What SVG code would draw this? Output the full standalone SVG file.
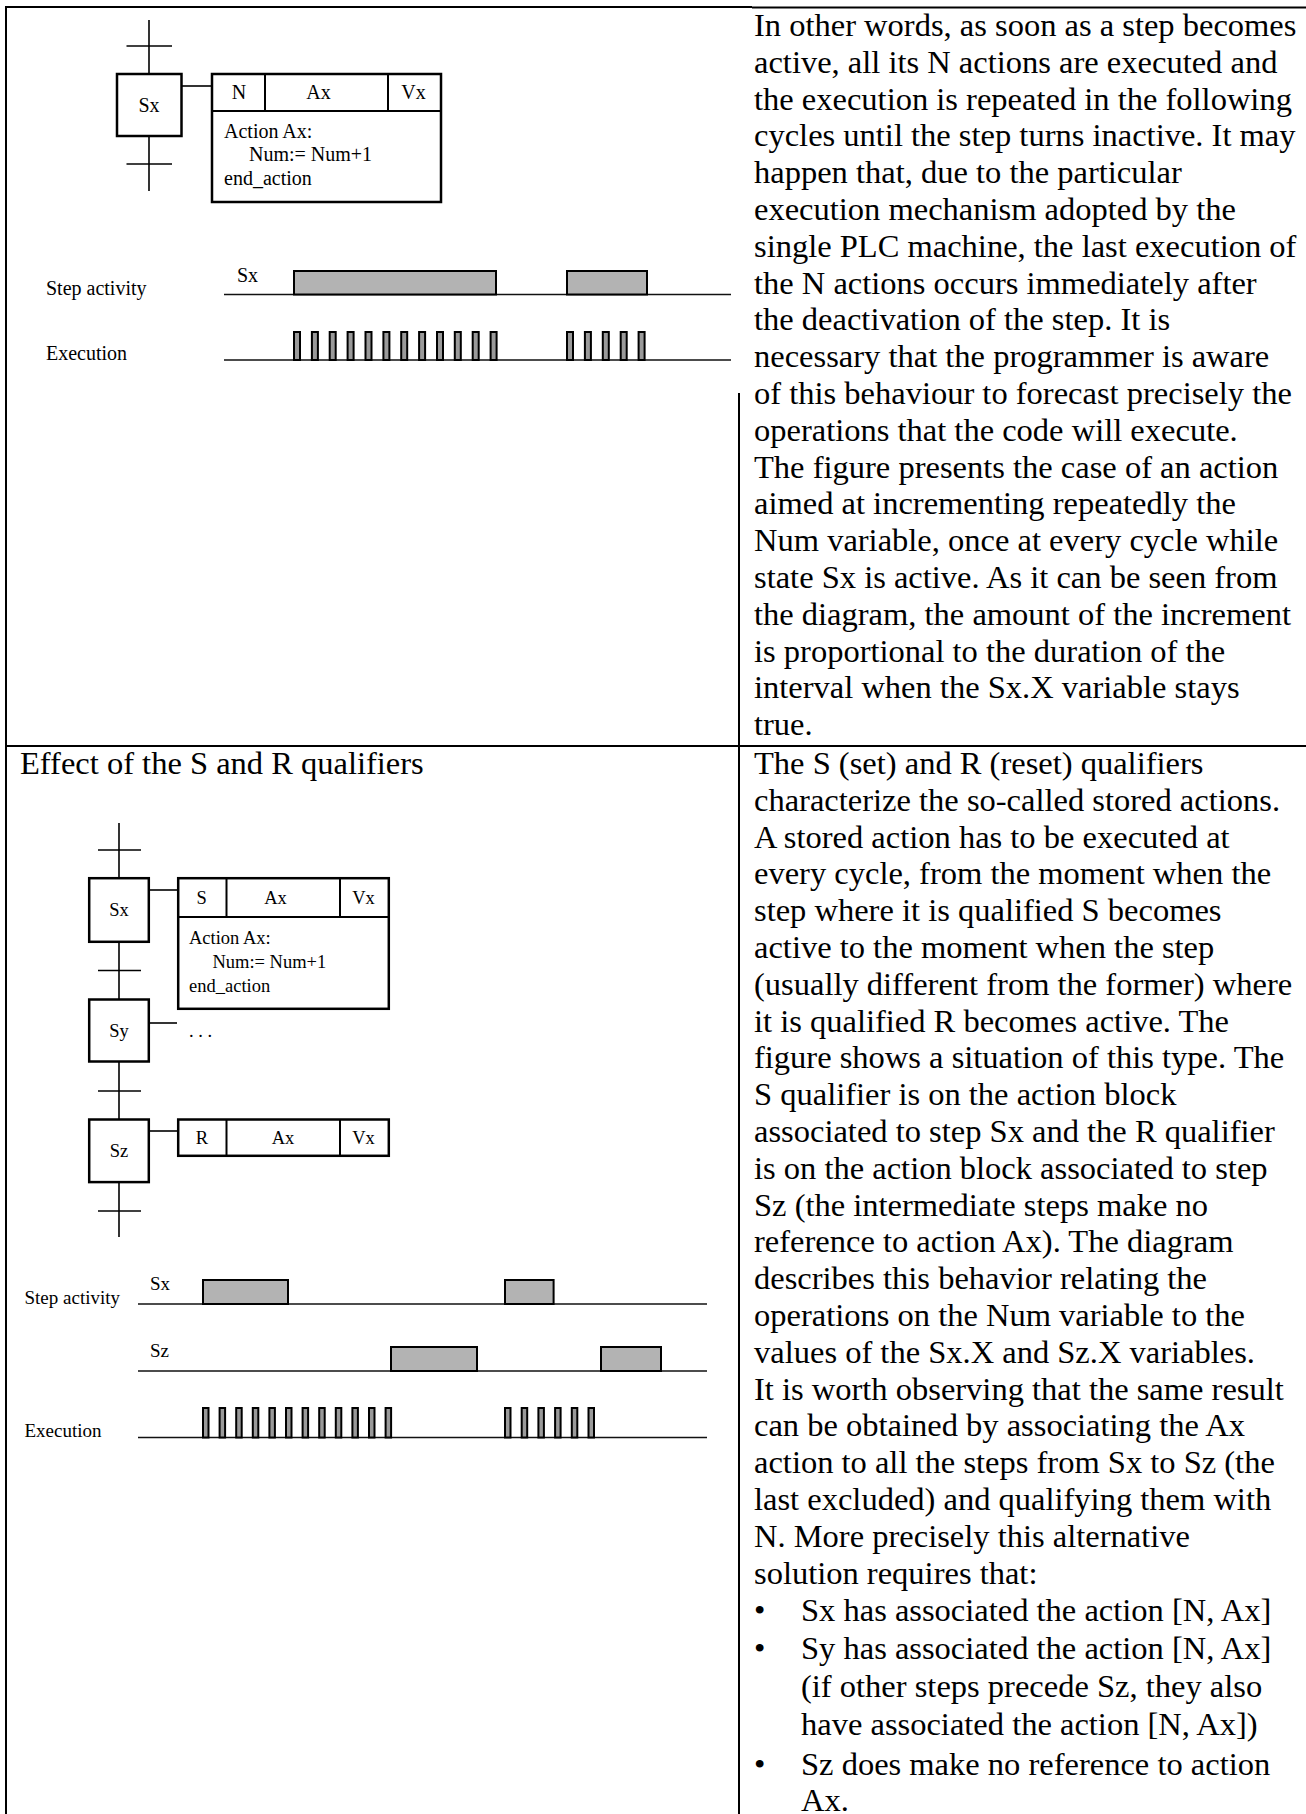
<svg xmlns="http://www.w3.org/2000/svg" width="1306" height="1814" viewBox="0 0 1306 1814">
  <style>
    text { font-family: "Liberation Serif", "Times New Roman", serif; fill: #000; }
    .body { font-size: 32.5px; }
    .f20 { font-size: 20px; }
    .f19 { font-size: 19px; }
    .f18 { font-size: 18.5px; }
    .mid { text-anchor: middle; }
    .grid { stroke: #000; stroke-width: 2; fill: none; }
    .box { fill: #fff; stroke: #000; stroke-width: 2.5; }
    .cell { stroke: #000; stroke-width: 2; fill: none; }
    .wire { stroke: #000; stroke-width: 1.6; fill: none; }
    .axis { stroke: #111; stroke-width: 1.6; fill: none; }
    .act { fill: #b3b3b3; stroke: #000; stroke-width: 2; }
    .pulse { fill: #9a9a9a; stroke: #000; stroke-width: 2; }
  </style>

  <rect x="0" y="0" width="1306" height="1814" fill="#fff"/>

  <!-- table rules -->
  <g id="table">
    <line class="grid" x1="5" y1="7" x2="752" y2="7" stroke-width="1.5"/>
    <line class="grid" x1="752" y1="7.5" x2="1306" y2="7.5"/>
    <line class="grid" x1="6" y1="6" x2="6" y2="1814"/>
    <line class="grid" x1="739" y1="393" x2="739" y2="1814"/>
    <line class="grid" x1="5" y1="746" x2="1306" y2="746"/>
  </g>

  <!-- ===== upper figure: N qualifier ===== -->
  <g id="fig1">
    <g id="fig1-connectors">
      <line class="wire" x1="149" y1="20" x2="149" y2="74"/>
      <line class="wire" x1="149" y1="136" x2="149" y2="191"/>
      <line class="wire" x1="126.5" y1="46" x2="172" y2="46"/>
      <line class="wire" x1="126.5" y1="164" x2="172" y2="164"/>
      <line class="wire" x1="182" y1="86" x2="212" y2="86"/>
    </g>
    <g id="fig1-step-sx">
      <rect class="box" x="117" y="74" width="64.5" height="62"/>
      <text class="f20 mid" x="149" y="111.5">Sx</text>
    </g>
    <g id="fig1-action-ax">
      <rect class="box" x="212" y="74" width="229" height="128"/>
      <line class="cell" x1="212" y1="111" x2="441" y2="111"/>
      <line class="cell" x1="265" y1="74" x2="265" y2="111"/>
      <line class="cell" x1="388" y1="74" x2="388" y2="111"/>
      <text class="f20 mid" x="239" y="99">N</text>
      <text class="f20 mid" x="318.5" y="99">Ax</text>
      <text class="f20 mid" x="413.5" y="99">Vx</text>
      <text class="f20" x="224" y="137.5">Action Ax:</text>
      <text class="f20" x="249" y="161">Num:= Num+1</text>
      <text class="f20" x="224" y="184.5">end_action</text>
    </g>
    <g id="fig1-timing">
      <text class="f20" x="46" y="295">Step activity</text>
      <text class="f20" x="46" y="360">Execution</text>
      <text class="f20" x="237" y="282">Sx</text>
      <line class="axis" x1="224" y1="294.5" x2="731" y2="294.5"/>
      <line class="axis" x1="224" y1="360" x2="731" y2="360"/>
      <rect class="act" x="294" y="271" width="202" height="23.5"/>
      <rect class="act" x="567" y="271" width="80" height="23.5"/>
      <g id="fig1-pulses">
        <rect class="pulse" x="294" y="332" width="6" height="28"/>
        <rect class="pulse" x="311.9" y="332" width="6" height="28"/>
        <rect class="pulse" x="329.7" y="332" width="6" height="28"/>
        <rect class="pulse" x="347.6" y="332" width="6" height="28"/>
        <rect class="pulse" x="365.5" y="332" width="6" height="28"/>
        <rect class="pulse" x="383.4" y="332" width="6" height="28"/>
        <rect class="pulse" x="401.2" y="332" width="6" height="28"/>
        <rect class="pulse" x="419.1" y="332" width="6" height="28"/>
        <rect class="pulse" x="437" y="332" width="6" height="28"/>
        <rect class="pulse" x="454.8" y="332" width="6" height="28"/>
        <rect class="pulse" x="472.7" y="332" width="6" height="28"/>
        <rect class="pulse" x="490.6" y="332" width="6" height="28"/>
        <rect class="pulse" x="567" y="332" width="6" height="28"/>
        <rect class="pulse" x="584.9" y="332" width="6" height="28"/>
        <rect class="pulse" x="602.8" y="332" width="6" height="28"/>
        <rect class="pulse" x="620.7" y="332" width="6" height="28"/>
        <rect class="pulse" x="638.6" y="332" width="6" height="28"/>
      </g>
    </g>
  </g>

  <!-- upper explanation -->
  <g id="text-n-qualifier" class="body">
    <text x="754" y="36">In other words, as soon as a step becomes</text>
    <text x="754" y="72.8">active, all its N actions are executed and</text>
    <text x="754" y="109.6">the execution is repeated in the following</text>
    <text x="754" y="146.4">cycles until the step turns inactive. It may</text>
    <text x="754" y="183.2">happen that, due to the particular</text>
    <text x="754" y="220">execution mechanism adopted by the</text>
    <text x="754" y="256.8">single PLC machine, the last execution of</text>
    <text x="754" y="293.6">the N actions occurs immediately after</text>
    <text x="754" y="330.4">the deactivation of the step. It is</text>
    <text x="754" y="367.2">necessary that the programmer is aware</text>
    <text x="754" y="404">of this behaviour to forecast precisely the</text>
    <text x="754" y="440.8">operations that the code will execute.</text>
    <text x="754" y="477.6">The figure presents the case of an action</text>
    <text x="754" y="514.4">aimed at incrementing repeatedly the</text>
    <text x="754" y="551.2">Num variable, once at every cycle while</text>
    <text x="754" y="588">state Sx is active. As it can be seen from</text>
    <text x="754" y="624.8">the diagram, the amount of the increment</text>
    <text x="754" y="661.6">is proportional to the duration of the</text>
    <text x="754" y="698.4">interval when the Sx.X variable stays</text>
    <text x="754" y="735.2">true.</text>
  </g>

  <!-- ===== lower figure: S and R qualifiers ===== -->
  <text class="body" x="20" y="774">Effect of the S and R qualifiers</text>

  <g id="fig2">
    <g id="fig2-connectors">
      <line class="wire" x1="119" y1="823" x2="119" y2="878"/>
      <line class="wire" x1="119" y1="942" x2="119" y2="999.5"/>
      <line class="wire" x1="119" y1="1062" x2="119" y2="1119.5"/>
      <line class="wire" x1="119" y1="1182" x2="119" y2="1237"/>
      <line class="wire" x1="98" y1="850" x2="141" y2="850"/>
      <line class="wire" x1="98" y1="970.5" x2="141" y2="970.5"/>
      <line class="wire" x1="98" y1="1091" x2="141" y2="1091"/>
      <line class="wire" x1="98" y1="1211" x2="141" y2="1211"/>
      <line class="wire" x1="150" y1="890" x2="178" y2="890"/>
      <line class="wire" x1="150" y1="1023" x2="177" y2="1023"/>
      <line class="wire" x1="150" y1="1131" x2="178" y2="1131"/>
    </g>
    <g id="fig2-step-sx">
      <rect class="box" x="89.2" y="878.2" width="59.6" height="63.6"/>
      <text class="f18 mid" x="119" y="916">Sx</text>
    </g>
    <g id="fig2-step-sy">
      <rect class="box" x="89.2" y="999.5" width="59.6" height="62"/>
      <text class="f18 mid" x="119" y="1036.5">Sy</text>
      <text class="f18" x="189" y="1037">. . .</text>
    </g>
    <g id="fig2-step-sz">
      <rect class="box" x="89.2" y="1119.5" width="59.6" height="62.6"/>
      <text class="f18 mid" x="119" y="1157">Sz</text>
    </g>
    <g id="fig2-action-set">
      <rect class="box" x="178.2" y="878.2" width="210.6" height="130.6"/>
      <line class="cell" x1="178.2" y1="917" x2="388.8" y2="917"/>
      <line class="cell" x1="226.5" y1="878.2" x2="226.5" y2="917"/>
      <line class="cell" x1="340" y1="878.2" x2="340" y2="917"/>
      <text class="f18 mid" x="201.6" y="903.5">S</text>
      <text class="f18 mid" x="275.5" y="903.5">Ax</text>
      <text class="f18 mid" x="363.5" y="903.5">Vx</text>
      <text class="f18" x="189" y="943.5">Action Ax:</text>
      <text class="f18" x="212.4" y="967.5">Num:= Num+1</text>
      <text class="f18" x="189" y="991.5">end_action</text>
    </g>
    <g id="fig2-action-reset">
      <rect class="box" x="178.2" y="1119.5" width="210.6" height="36.3"/>
      <line class="cell" x1="226.5" y1="1119.5" x2="226.5" y2="1155.8"/>
      <line class="cell" x1="340" y1="1119.5" x2="340" y2="1155.8"/>
      <text class="f18 mid" x="202" y="1143.8">R</text>
      <text class="f18 mid" x="283" y="1143.8">Ax</text>
      <text class="f18 mid" x="363.5" y="1143.8">Vx</text>
    </g>
    <g id="fig2-timing">
      <text class="f19" x="24.5" y="1304">Step activity</text>
      <text class="f19" x="24.5" y="1437">Execution</text>
      <text class="f19" x="150" y="1290">Sx</text>
      <text class="f19" x="150" y="1357">Sz</text>
      <line class="axis" x1="138" y1="1304" x2="707" y2="1304"/>
      <line class="axis" x1="138" y1="1371" x2="707" y2="1371"/>
      <line class="axis" x1="138" y1="1437.5" x2="707" y2="1437.5"/>
      <rect class="act" x="203" y="1280" width="85" height="24"/>
      <rect class="act" x="505" y="1280" width="48.6" height="24"/>
      <rect class="act" x="391" y="1347" width="86" height="24"/>
      <rect class="act" x="601" y="1347" width="60" height="24"/>
      <g id="fig2-pulses">
        <rect class="pulse" x="203" y="1408" width="5.5" height="29.5"/>
        <rect class="pulse" x="219.6" y="1408" width="5.5" height="29.5"/>
        <rect class="pulse" x="236.2" y="1408" width="5.5" height="29.5"/>
        <rect class="pulse" x="252.8" y="1408" width="5.5" height="29.5"/>
        <rect class="pulse" x="269.4" y="1408" width="5.5" height="29.5"/>
        <rect class="pulse" x="286" y="1408" width="5.5" height="29.5"/>
        <rect class="pulse" x="302.6" y="1408" width="5.5" height="29.5"/>
        <rect class="pulse" x="319.2" y="1408" width="5.5" height="29.5"/>
        <rect class="pulse" x="335.8" y="1408" width="5.5" height="29.5"/>
        <rect class="pulse" x="352.4" y="1408" width="5.5" height="29.5"/>
        <rect class="pulse" x="369" y="1408" width="5.5" height="29.5"/>
        <rect class="pulse" x="385.6" y="1408" width="5.5" height="29.5"/>
        <rect class="pulse" x="505" y="1408" width="5.5" height="29.5"/>
        <rect class="pulse" x="521.7" y="1408" width="5.5" height="29.5"/>
        <rect class="pulse" x="538.4" y="1408" width="5.5" height="29.5"/>
        <rect class="pulse" x="555.1" y="1408" width="5.5" height="29.5"/>
        <rect class="pulse" x="571.8" y="1408" width="5.5" height="29.5"/>
        <rect class="pulse" x="588.5" y="1408" width="5.5" height="29.5"/>
      </g>
    </g>
  </g>

  <!-- lower explanation -->
  <g id="text-sr-qualifiers" class="body">
    <text x="754" y="774">The S (set) and R (reset) qualifiers</text>
    <text x="754" y="810.8">characterize the so-called stored actions.</text>
    <text x="754" y="847.6">A stored action has to be executed at</text>
    <text x="754" y="884.4">every cycle, from the moment when the</text>
    <text x="754" y="921.2">step where it is qualified S becomes</text>
    <text x="754" y="958">active to the moment when the step</text>
    <text x="754" y="994.8">(usually different from the former) where</text>
    <text x="754" y="1031.6">it is qualified R becomes active. The</text>
    <text x="754" y="1068.4">figure shows a situation of this type. The</text>
    <text x="754" y="1105.2">S qualifier is on the action block</text>
    <text x="754" y="1142">associated to step Sx and the R qualifier</text>
    <text x="754" y="1178.8">is on the action block associated to step</text>
    <text x="754" y="1215.6">Sz (the intermediate steps make no</text>
    <text x="754" y="1252.4">reference to action Ax). The diagram</text>
    <text x="754" y="1289.2">describes this behavior relating the</text>
    <text x="754" y="1326">operations on the Num variable to the</text>
    <text x="754" y="1362.8">values of the Sx.X and Sz.X variables.</text>
    <text x="754" y="1399.6">It is worth observing that the same result</text>
    <text x="754" y="1436.4">can be obtained by associating the Ax</text>
    <text x="754" y="1473.2">action to all the steps from Sx to Sz (the</text>
    <text x="754" y="1510">last excluded) and qualifying them with</text>
    <text x="754" y="1546.8">N. More precisely this alternative</text>
    <text x="754" y="1583.6">solution requires that:</text>
    <text x="754" y="1621">•</text>
    <text x="801" y="1621">Sx has associated the action [N, Ax]</text>
    <text x="754" y="1659">•</text>
    <text x="801" y="1659">Sy has associated the action [N, Ax]</text>
    <text x="801" y="1697">(if other steps precede Sz, they also</text>
    <text x="801" y="1735">have associated the action [N, Ax])</text>
    <text x="754" y="1775">•</text>
    <text x="801" y="1775">Sz does make no reference to action</text>
    <text x="801" y="1811">Ax.</text>
  </g>
</svg>
